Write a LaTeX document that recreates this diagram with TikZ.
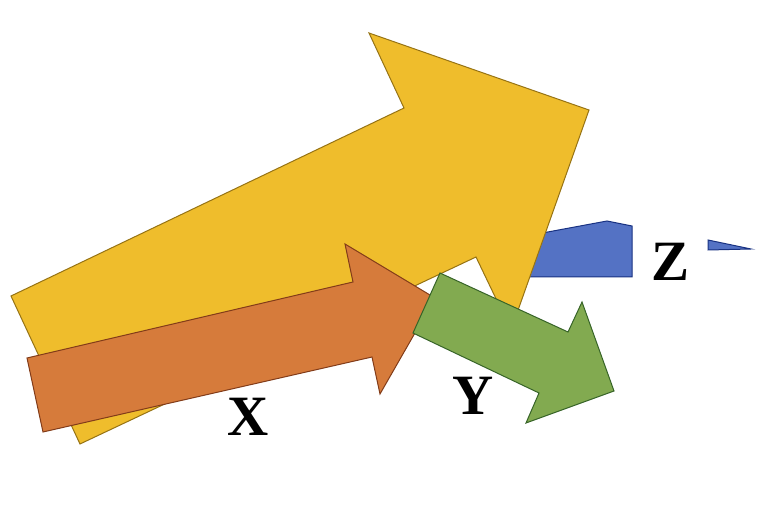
\documentclass[tikz,border=0pt]{standalone}
\usepackage{fontspec}
\setmainfont{Liberation Serif}
\begin{document}
\begin{tikzpicture}[x=1pt,y=-1pt,
  shp/.style={line width=1pt, line join=miter},
  yel/.style={shp, fill={rgb,255:red,239;green,189;blue,44}, draw={rgb,255:red,150;green,115;blue,20}},
  ora/.style={shp, fill={rgb,255:red,214;green,123;blue,59}, draw={rgb,255:red,130;green,60;blue,25}},
  grn/.style={shp, fill={rgb,255:red,130;green,170;blue,80}, draw={rgb,255:red,55;green,100;blue,40}},
  blu/.style={shp, fill={rgb,255:red,84;green,114;blue,196}, draw={rgb,255:red,25;green,50;blue,130}},
  lbl/.style={font=\fontsize{57}{57}\selectfont\bfseries, inner sep=0pt, anchor=center}]
\useasboundingbox (0,0) rectangle (766,510);
% blue shape (behind yellow)
\draw[blu] (510,239) -- (607,221) -- (632,226) -- (632,277) -- (510,277) -- cycle;
\draw[blu] (708,240) -- (751,249) -- (708,250) -- cycle;
% yellow arrow
\draw[yel] (11,296) -- (404,108) -- (369,33) -- (589,110) -- (511,330) -- (476,257) -- (80,444) -- cycle;
% orange arrow
\draw[ora] (27,358) -- (353,282) -- (345,244) -- (435,298) -- (380,394) -- (372,357) -- (43,432) -- cycle;
% green arrow
\draw[grn] (440,273) -- (568,332) -- (582,302) -- (614,391) -- (526,423) -- (539,393) -- (413,333) -- cycle;
% labels
\node[lbl] (X) at (248,417) {X};
\node[lbl] (Y) at (473,396) {Y};
\node[lbl] (Z) at (671,262) {Z};
\end{tikzpicture}
\end{document}
